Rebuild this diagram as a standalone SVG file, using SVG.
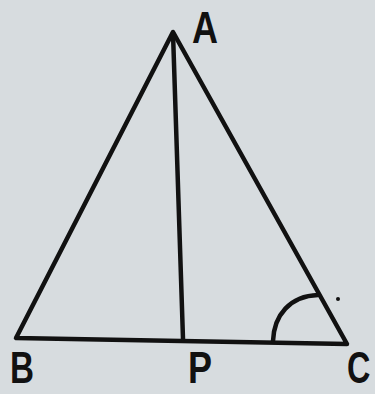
<svg xmlns="http://www.w3.org/2000/svg" width="375" height="394" viewBox="0 0 375 394">
<style>
.ln{stroke:#111;stroke-width:4.5;fill:none;stroke-linecap:round;stroke-linejoin:round}
.lb{font-family:"Liberation Sans",Arial,sans-serif;font-size:45px;font-weight:bold;fill:#111}
</style>
<rect width="375" height="394" fill="#d7dcdf"/>
<g id="connectors">
<path class="ln" d="M173 32 L16 338 L347 344 Z"/>
<path class="ln" d="M173 33 L183 339"/>
<path class="ln" d="M273 341 C274 315 290 296 318 295"/>
</g>
<g id="A"><text class="lb" x="192" y="43" textLength="26" lengthAdjust="spacingAndGlyphs">A</text></g>
<g id="B"><text class="lb" x="10" y="383" textLength="24" lengthAdjust="spacingAndGlyphs">B</text></g>
<g id="P"><text class="lb" x="188" y="383" textLength="24" lengthAdjust="spacingAndGlyphs">P</text></g>
<g id="C"><text class="lb" transform="translate(347 383) scale(0.72 1)">C</text></g>
<circle cx="338" cy="299" r="2" fill="#111"/>
</svg>
